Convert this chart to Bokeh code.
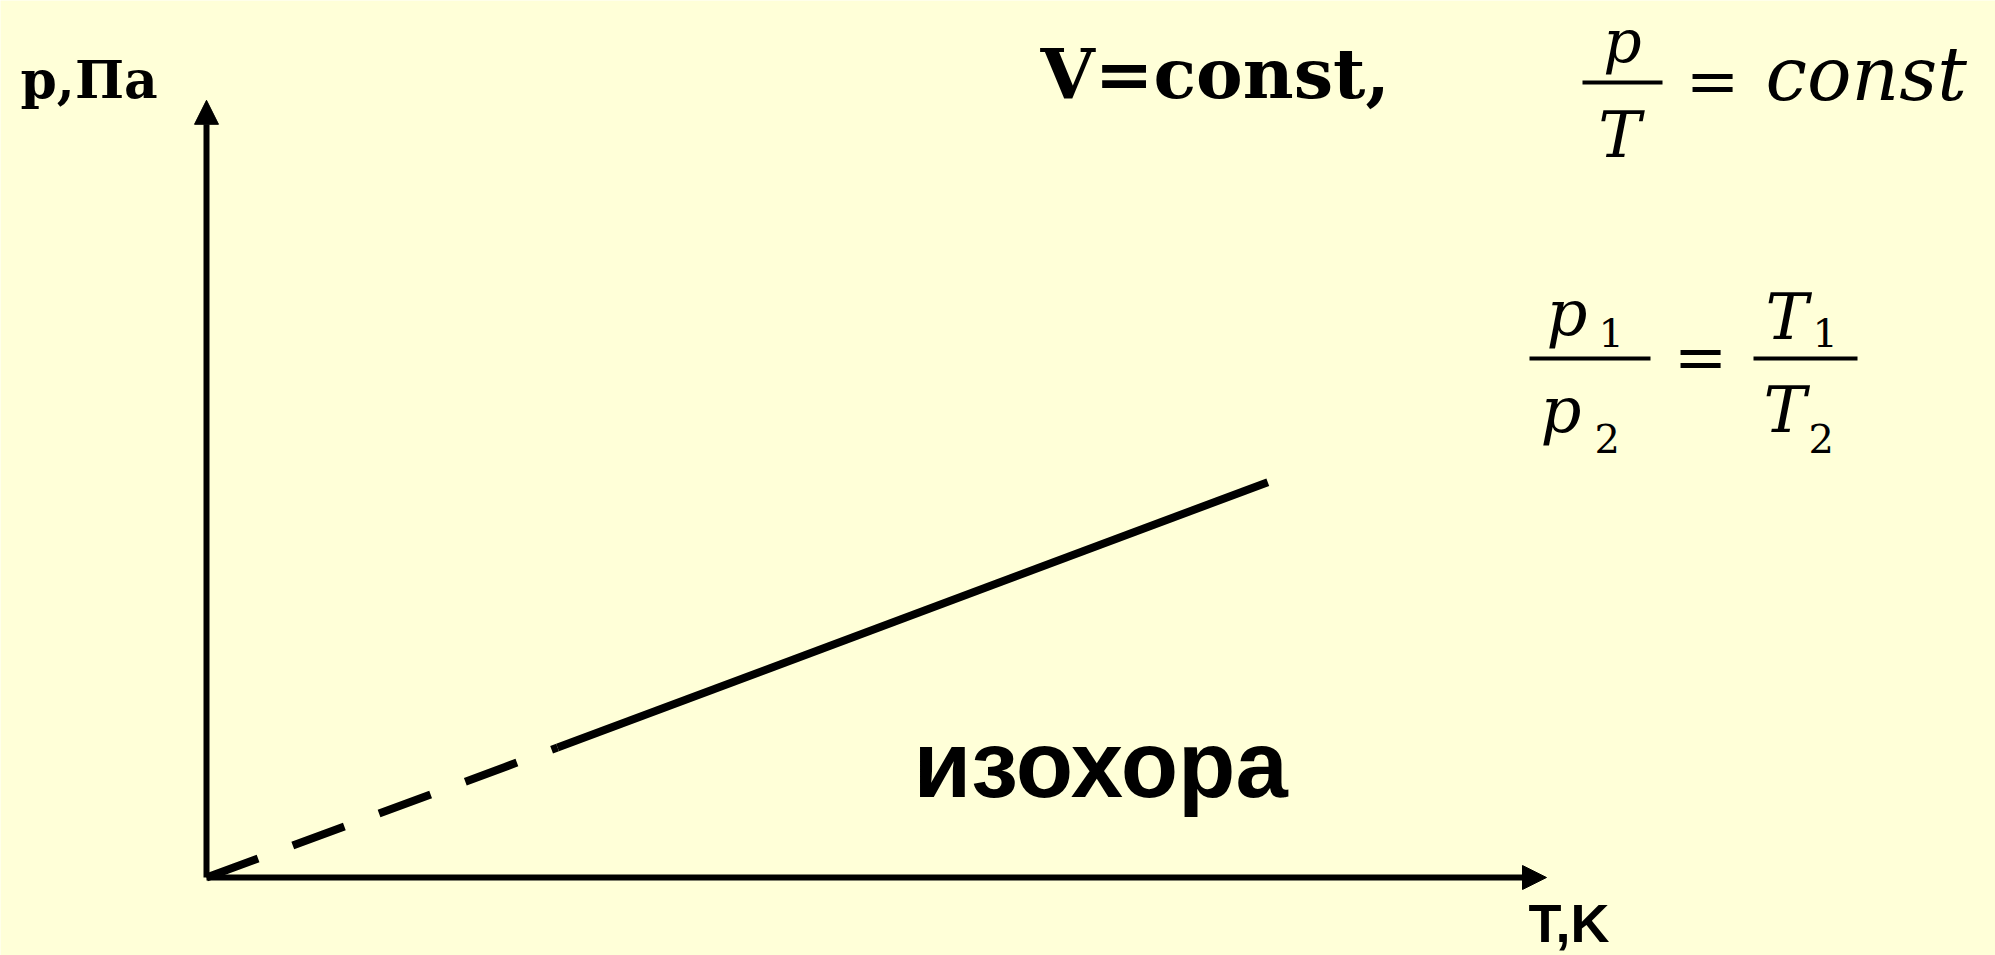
from bokeh.plotting import figure
from bokeh.models import Range1d, Arrow, NormalHead
from bokeh.core.properties import value
from bokeh.embed import file_html
from bokeh.resources import INLINE

# ---- data (schematic isochore p ~ T) ----
T_axis_max = [10.0]          # end of T axis (arrow tip)
p_axis_max = [5.8]           # end of p axis (arrow tip)
T_dashed = [0.0, 2.62]       # extrapolated part towards 0 K
p_dashed = [0.0, 0.97]
T_solid = [2.62, 7.92]       # measured part
p_solid = [0.97, 2.95]

axis_label_T = "T,K"
axis_label_p = "p,Па"
title_text = "V=const,"
curve_label = "изохора"

BG = "#FFFFD8"
W, H = 1995, 955
# layout: page pixels -> data units (origin at page px (206, 877), 134 px per unit)
OX, OY, S = 206, 877, 134.0
K = 0.36   # baseline correction (fraction of font size)


def dx(px):
    return (px - OX) / S


def dy(py):
    return (OY - py) / S


p = figure(width=W, height=H, output_backend="svg", toolbar_location=None,
           x_axis_type=None, y_axis_type=None, min_border=0,
           x_range=Range1d(dx(0), dx(W)), y_range=Range1d(dy(H), dy(0)))
p.background_fill_color = BG
p.border_fill_color = BG
p.outline_line_color = None
p.grid.visible = False

# axes as arrows
for xe, ye in ((T_axis_max[0], 0.0), (0.0, p_axis_max[0])):
    p.add_layout(Arrow(end=NormalHead(size=24, fill_color="black", line_color="black", line_width=1),
                       x_start=0.0, y_start=0.0, x_end=xe, y_end=ye,
                       line_color="black", line_width=6))

# isochore
p.line(T_dashed, p_dashed, line_color="black", line_width=8, line_dash="55 37")
p.line(T_solid, p_solid, line_color="black", line_width=8)


def txt(x, y, s, font, size, style="normal", align="left"):
    p.text(x=[dx(x)], y=[dy(y - K * size)], text=[s], text_font=value(font),
           text_font_size=value(f"{size}px"), text_font_style=style, text_color="black",
           text_align=align, text_baseline="alphabetic")


# labels
txt(20, 98, axis_label_p, "DejaVu Serif", 52, "bold")
txt(1528, 942, axis_label_T, "Liberation Sans", 54, "bold")
txt(913, 798, curve_label, "Liberation Sans", 94, "bold")
txt(1040, 98, title_text, "DejaVu Serif", 70, "bold")

# formula p/T = const
txt(1622, 62, "p", "DejaVu Serif", 60, "italic", "center")
txt(1619, 158, "T", "DejaVu Serif", 64, "italic", "center")
p.segment(x0=[dx(1582)], y0=[dy(82)], x1=[dx(1662)], y1=[dy(82)], line_color="black", line_width=4)
txt(1712, 104, "=", "DejaVu Serif", 64, "normal", "center")
txt(1765, 100, "const", "DejaVu Serif", 74, "italic")

# formula p1/p2 = T1/T2
txt(1546, 336, "p", "DejaVu Serif", 64, "italic")
txt(1598, 346, "1", "DejaVu Serif", 40)
txt(1540, 433, "p", "DejaVu Serif", 64, "italic")
txt(1594, 452, "2", "DejaVu Serif", 40)
p.segment(x0=[dx(1529)], y0=[dy(358)], x1=[dx(1650)], y1=[dy(358)], line_color="black", line_width=4)
txt(1700, 380, "=", "DejaVu Serif", 64, "normal", "center")
p.segment(x0=[dx(1753)], y0=[dy(358)], x1=[dx(1857)], y1=[dy(358)], line_color="black", line_width=4)
txt(1765, 340, "T", "DejaVu Serif", 64, "italic")
txt(1812, 346, "1", "DejaVu Serif", 40)
txt(1763, 433, "T", "DejaVu Serif", 64, "italic")
txt(1808, 452, "2", "DejaVu Serif", 40)

html = file_html(p, INLINE, title="изохора")
html = html.replace("<body>", f'<body style="background-color:{BG};">', 1)
open("out.html", "w").write(html)
